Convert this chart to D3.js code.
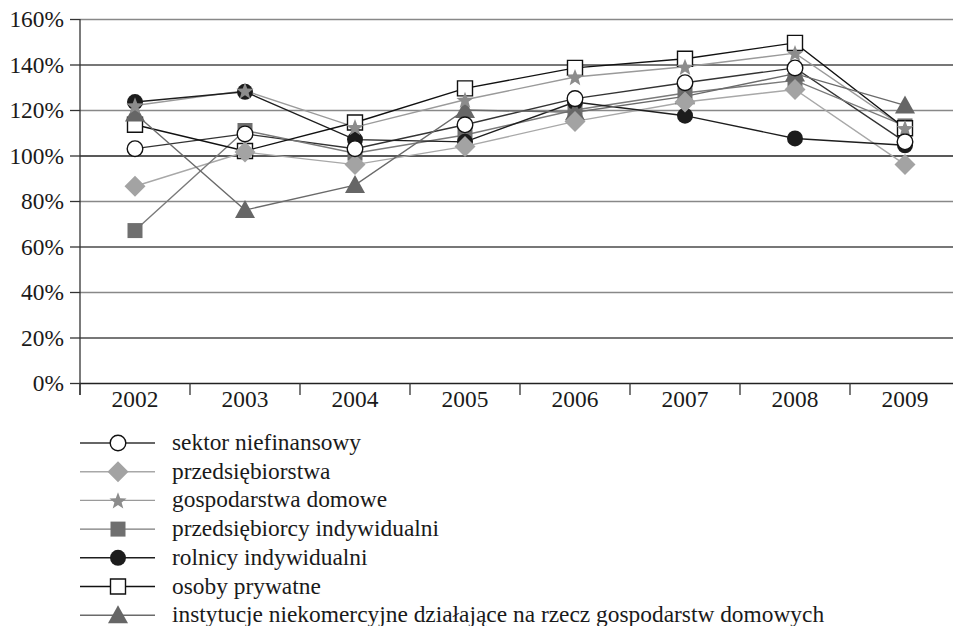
<!DOCTYPE html>
<html>
<head>
<meta charset="utf-8">
<script src="https://cdn.jsdelivr.net/npm/d3@7/dist/d3.min.js"></script>
<style>
  html, body { margin: 0; padding: 0; background: #fff; }
  svg { display: block; }
  svg text { font-family: "Liberation Serif", "Times New Roman", Tinos, "DejaVu Serif", serif; }
</style>
</head>
<body>
<svg id="chart" width="953" height="626"></svg>
<script>
// Dynamika kredytów wg sektorów, 2002-2009 (%)
const years = ["2002", "2003", "2004", "2005", "2006", "2007", "2008", "2009"];
const yTicks = [0, 20, 40, 60, 80, 100, 120, 140, 160];

const sektorNiefinansowy       = [103, 109.5, 103, 113.5, 125, 132, 138.5, 106];
const przedsiebiorstwa         = [86.5, 101.5, 96, 104, 115, 123.5, 129, 96];
const gospodarstwaDomowe       = [122, 128.5, 112.5, 124.5, 134.5, 139, 145, 112];
const przedsiebiorcyIndyw      = [67, 111, 101, 109, 120, 127.5, 133, 113];
const rolnicyIndyw             = [123.5, 128, 107, 106, 123.5, 117.5, 107.5, 104.5];
const osobyPrywatne            = [113.5, 102, 114.5, 129.5, 138.5, 142.5, 149.5, 112];
const instytucjeNiekomercyjne  = [118.5, 76, 87, 120, 119, 126, 136, 122];

const seriesNames = [
  "sektor niefinansowy",
  "przedsiębiorstwa",
  "gospodarstwa domowe",
  "przedsiębiorcy indywidualni",
  "rolnicy indywidualni",
  "osoby prywatne",
  "instytucje niekomercyjne działające na rzecz gospodarstw domowych"
];
const seriesValues = [
  sektorNiefinansowy, przedsiebiorstwa, gospodarstwaDomowe,
  przedsiebiorcyIndyw, rolnicyIndyw, osobyPrywatne, instytucjeNiekomercyjne
];

// appearance of each series: line colour, marker shape, fill, outline
const styles = [
  { line: "#333333", shape: "circle",   fill: "#ffffff", stroke: "#111", size: 7.8 },
  { line: "#a8a8a8", shape: "diamond",  fill: "#a3a3a3", stroke: "none", size: 10.5 },
  { line: "#9a9a9a", shape: "star",     fill: "#8c8c8c", stroke: "none", size: 9 },
  { line: "#7a7a7a", shape: "square",   fill: "#6f6f6f", stroke: "none", size: 7.5 },
  { line: "#1e1e1e", shape: "circle",   fill: "#1c1c1c", stroke: "none", size: 8 },
  { line: "#111111", shape: "square",   fill: "#ffffff", stroke: "#111", size: 7.5 },
  { line: "#6a6a6a", shape: "triangle", fill: "#666666", stroke: "none", size: 10 }
];
// marker stacking, bottom to top
const drawOrder = [3, 5, 4, 6, 1, 2, 0];

const svg = d3.select("#chart");
const plotLeft = 80, plotRight = 960, plotTop = 19, plotBottom = 383;
const fontSize = 23.4;

const x = d3.scaleBand().domain(years).range([plotLeft, plotRight]);
const y = d3.scaleLinear().domain([0, 160]).range([plotBottom, plotTop]);

function symbolPath(shape, r) {
  if (shape === "circle") {
    return `M${r},0A${r},${r} 0 1,1 ${-r},0A${r},${r} 0 1,1 ${r},0Z`;
  }
  if (shape === "square") {
    return `M${-r},${-r}H${r}V${r}H${-r}Z`;
  }
  if (shape === "diamond") {
    return `M0,${-r}L${r},0L0,${r}L${-r},0Z`;
  }
  if (shape === "triangle") {
    return `M0,${-r}L${r * 1.0},${r * 0.8}L${-r * 1.0},${r * 0.8}Z`;
  }
  // five-pointed star
  const pts = [];
  for (let i = 0; i < 10; i++) {
    const a = -Math.PI / 2 + i * Math.PI / 5;
    const rr = i % 2 === 0 ? r : r * 0.42;
    pts.push([rr * Math.cos(a), rr * Math.sin(a) + r * 0.1]);
  }
  return "M" + pts.map(p => p[0].toFixed(2) + "," + p[1].toFixed(2)).join("L") + "Z";
}

// horizontal grid
const gridColor = v => (v === 100 ? "#222" : (v / 20) % 2 === 0 ? "#888" : "#4a4a4a");
svg.append("g").selectAll("line").data(yTicks.filter(v => v > 0)).join("line")
  .attr("x1", plotLeft).attr("x2", 953)
  .attr("y1", d => y(d) + 0.5).attr("y2", d => y(d) + 0.5)
  .attr("stroke", d => gridColor(d)).attr("stroke-width", 1.3);

// y axis
const yAxis = d3.axisLeft(y).tickValues(yTicks).tickSize(10).tickFormat(d => d + "%");
const gy = svg.append("g").attr("transform", `translate(${plotLeft},0)`).call(yAxis);
gy.attr("font-family", null).attr("font-size", null);
gy.select(".domain").remove();
gy.selectAll(".tick line").attr("stroke", "#333").attr("stroke-width", 1.3);
gy.selectAll(".tick text").attr("x", -16).attr("font-size", fontSize).attr("fill", "#1a1a1a");
svg.append("line").attr("x1", plotLeft).attr("x2", plotLeft).attr("y1", plotTop).attr("y2", plotBottom + 12)
  .attr("stroke", "#333").attr("stroke-width", 1.3);

// x axis with ticks between categories
svg.append("line").attr("x1", plotLeft).attr("x2", 953).attr("y1", plotBottom + 0.5).attr("y2", plotBottom + 0.5)
  .attr("stroke", "#222").attr("stroke-width", 1.3);
svg.append("g").selectAll("line").data(years).join("line")
  .attr("x1", d => x(d)).attr("x2", d => x(d))
  .attr("y1", plotBottom).attr("y2", plotBottom + 12)
  .attr("stroke", "#333").attr("stroke-width", 1.3);
svg.append("g").selectAll("text").data(years).join("text")
  .attr("x", d => x(d) + x.bandwidth() / 2)
  .attr("y", 407)
  .attr("text-anchor", "middle")
  .attr("font-size", fontSize).attr("fill", "#1a1a1a")
  .text(d => d);

// series lines
const line = d3.line().x((d, i) => x(years[i]) + x.bandwidth() / 2).y(d => y(d));
svg.append("g").selectAll("path").data(seriesValues).join("path")
  .attr("d", d => line(d))
  .attr("fill", "none")
  .attr("stroke", (d, i) => styles[i].line)
  .attr("stroke-width", 1.4);

// markers
const mg = svg.append("g");
drawOrder.forEach(si => {
  const st = styles[si];
  mg.append("g").selectAll("path").data(seriesValues[si]).join("path")
    .attr("transform", (d, i) => `translate(${x(years[i]) + x.bandwidth() / 2},${y(d)})`)
    .attr("d", symbolPath(st.shape, st.size))
    .attr("fill", st.fill)
    .attr("stroke", st.stroke)
    .attr("stroke-width", 1.4);
});

// legend
const legend = svg.append("g");
const legY = i => 443 + i * 28.7;
seriesNames.forEach((name, i) => {
  const st = styles[i];
  const g = legend.append("g").attr("transform", `translate(0,${legY(i)})`);
  g.append("line").attr("x1", 80).attr("x2", 155).attr("y1", 0).attr("y2", 0)
    .attr("stroke", st.line).attr("stroke-width", 1.4);
  g.append("path").attr("transform", "translate(118,0)")
    .attr("d", symbolPath(st.shape, st.size))
    .attr("fill", st.fill).attr("stroke", st.stroke).attr("stroke-width", 1.4);
  g.append("text").attr("x", 172).attr("y", 0).attr("dy", "0.3em")
    .attr("font-size", fontSize).attr("fill", "#1a1a1a").text(name);
});
</script>
</body>
</html>
